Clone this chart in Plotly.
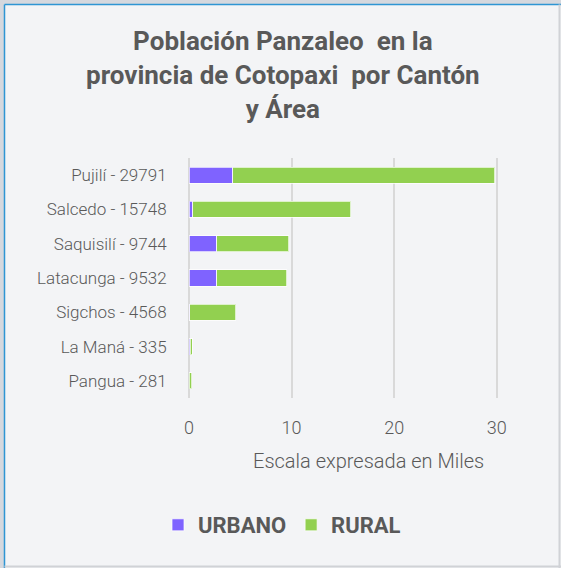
import plotly.graph_objects as go

cantones = ["Pujilí", "Salcedo", "Saquisilí", "Latacunga", "Sigchos", "La Maná", "Pangua"]
totales = [29791, 15748, 9744, 9532, 4568, 335, 281]
urbano = [4250, 350, 2700, 2700, 50, 110, 0]
rural = [t - u for t, u in zip(totales, urbano)]
etiquetas = [f"{c} - {t}" for c, t in zip(cantones, totales)]

urb_k = [u / 1000 for u in urbano]
rur_k = [r / 1000 for r in rural]

PURPLE = "#7F63FF"
GREEN = "#92D050"
TXT = "#595959"
FONT = "Roboto"

W, H = 561, 568
L, R, T, B = 188, 52, 158, 170
XMIN, XMAX = -0.1, 31.2

fig = go.Figure()
fig.add_trace(go.Bar(y=etiquetas, x=urb_k, orientation="h", name="URBANO",
                     marker=dict(color=PURPLE, line=dict(color="rgba(255,255,255,0.7)", width=1))))
fig.add_trace(go.Bar(y=etiquetas, x=rur_k, orientation="h", name="RURAL",
                     marker=dict(color=GREEN, line=dict(color="rgba(255,255,255,0.7)", width=1))))

def px(xp, yp):
    return (xp - L) / (W - L - R), 1 - (yp - T) / (H - T - B)

shapes = []
x0, y0 = px(0, 0); x1, y1 = px(W, 4)
shapes.append(dict(type="rect", xref="paper", yref="paper", x0=x0, x1=x1, y0=y0, y1=y1,
                   fillcolor="#D5D8DE", line=dict(width=0), layer="above"))
x0, y0 = px(0, 0); x1, y1 = px(4, H)
shapes.append(dict(type="rect", xref="paper", yref="paper", x0=x0, x1=x1, y0=y0, y1=y1,
                   fillcolor="#D5D8DE", line=dict(width=0), layer="above"))
xa, ya = px(4.5, 4.5); xb, yb = px(W, 4.5)
shapes.append(dict(type="line", xref="paper", yref="paper", x0=xa, x1=xb, y0=ya, y1=yb,
                   line=dict(color="#2E95D3", width=1.5), layer="above"))
xa, ya = px(4.5, 4.5); xb, yb = px(4.5, H)
shapes.append(dict(type="line", xref="paper", yref="paper", x0=xa, x1=xb, y0=ya, y1=yb,
                   line=dict(color="#2E95D3", width=1.5), layer="above"))
xa, ya = px(559.5, 4.5); xb, yb = px(559.5, H)
shapes.append(dict(type="line", xref="paper", yref="paper", x0=xa, x1=xb, y0=ya, y1=yb,
                   line=dict(color="#D0D2D6", width=2), layer="above"))
xa, ya = px(4.5, 566.5); xb, yb = px(W, 566.5)
shapes.append(dict(type="line", xref="paper", yref="paper", x0=xa, x1=xb, y0=ya, y1=yb,
                   line=dict(color="#D0D2D6", width=2), layer="above"))

tx, ty = px(283, 75)
ax_x, ax_y = px(368, 461)
fig.update_layout(
    width=W, height=H,
    margin=dict(l=L, r=R, t=T, b=B, pad=0),
    paper_bgcolor="#F3F4F6", plot_bgcolor="#F3F4F6",
    barmode="stack", bargap=0.53,
    font=dict(family=FONT, color=TXT),
    xaxis=dict(range=[XMIN, XMAX], tickvals=[0, 10, 20, 30], showgrid=True,
               gridcolor="#D9D9D9", gridwidth=2,
               zeroline=False, showline=False, ticks="outside", ticklen=13,
               tickcolor="rgba(0,0,0,0)", tickfont=dict(size=18, color=TXT, weight=300),
               fixedrange=True),
    yaxis=dict(autorange="reversed", showgrid=False, zeroline=False, showline=False,
               ticks="outside", ticklen=17, tickcolor="rgba(0,0,0,0)",
               tickfont=dict(size=17, color=TXT, weight=300)),
    legend=dict(orientation="h", x=px(158, 0)[0], xanchor="left", y=px(0, 525)[1], yanchor="middle",
                font=dict(family=FONT, size=22, color=TXT, weight="bold"),
                bgcolor="rgba(0,0,0,0)", traceorder="normal"),
    showlegend=True,
    shapes=shapes,
    annotations=[
        dict(text="<b>Población Panzaleo  en la<br>provincia de Cotopaxi  por Cantón<br>y Área</b>",
             xref="paper", yref="paper", x=tx, y=ty, showarrow=False,
             xanchor="center", yanchor="middle", align="center",
             font=dict(family=FONT, size=26, color=TXT)),
        dict(text="Escala expresada en Miles", xref="paper", yref="paper",
             x=ax_x, y=ax_y, showarrow=False, xanchor="center", yanchor="middle",
             font=dict(family=FONT, size=20, color=TXT, weight=300)),
    ],
)

fig.write_html("out.html")
